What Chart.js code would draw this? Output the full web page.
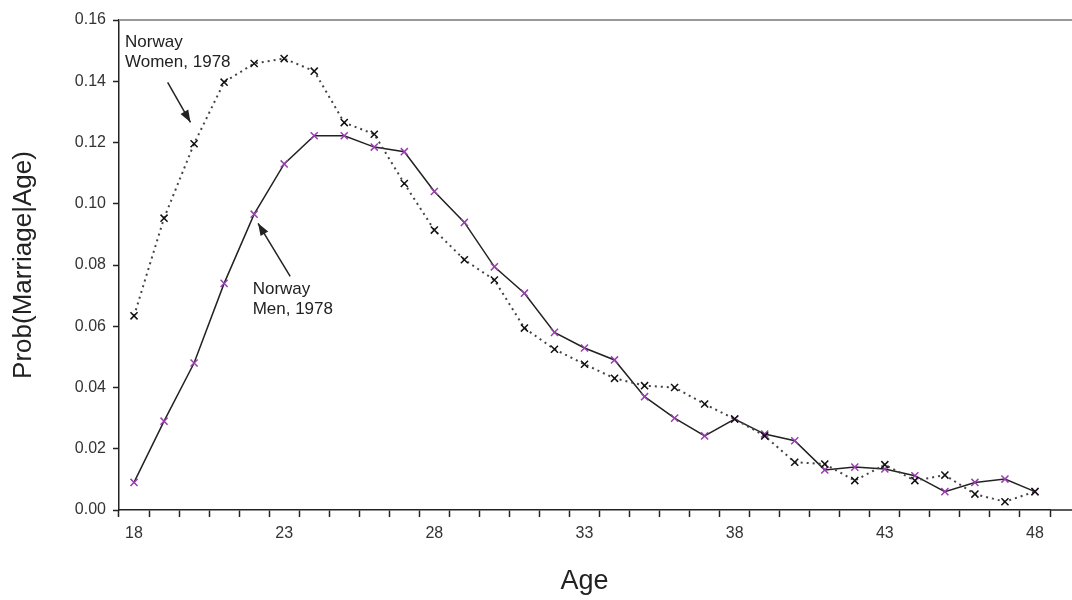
<!DOCTYPE html>
<html>
<head>
<meta charset="utf-8">
<script src="https://cdn.jsdelivr.net/npm/chart.js@4/dist/chart.umd.min.js"></script>
<style>
  body { margin: 0; background: #fff; }
  #wrap { width: 1072px; height: 600px; }
</style>
</head>
<body>
<div id="wrap"><canvas id="myChart"></canvas></div>
<script>
const ages = [];
for (let a = 18; a <= 48; a++) ages.push(String(a));

const men = [0.009, 0.029, 0.048, 0.074, 0.0966, 0.113, 0.1222, 0.1222, 0.1185, 0.117,
    0.104, 0.0939, 0.0794, 0.0708, 0.058, 0.0529, 0.049, 0.037, 0.030, 0.0242,
    0.0297, 0.0248, 0.0226, 0.0131, 0.014, 0.0134, 0.0112, 0.006, 0.009, 0.0101, 0.006];

const women = [0.0634, 0.0953, 0.1196, 0.1397, 0.1458, 0.1474, 0.1433, 0.1265, 0.1227, 0.1066,
    0.0914, 0.0817, 0.0751, 0.0594, 0.0525, 0.0476, 0.043, 0.0406, 0.040, 0.0346,
    0.0297, 0.0242, 0.0156, 0.015, 0.0096, 0.0148, 0.0096, 0.0114, 0.0052, 0.0027, 0.006];

const yTicks = [0, 0.02, 0.04, 0.06, 0.08, 0.10, 0.12, 0.14, 0.16];

// notes are placed in data units: [category index, value]
const notes = [
    { lines: ['Norway', 'Women, 1978'], at: [-0.3, 0.1527], from: [1.12, 0.1396], to: [1.88, 0.1266] },
    { lines: ['Norway', 'Men, 1978'], at: [3.95, 0.0721], from: [5.2, 0.0763], to: [4.13, 0.0936] }
];

const font = "'Liberation Sans', Arial, sans-serif";

const notesPlugin = {
    id: 'notes',
    afterDatasetsDraw(chart) {
        const ctx = chart.ctx;
        const xs = chart.scales.x, ys = chart.scales.y;
        const area = chart.chartArea;
        ctx.save();
        // top border and extended x axis line
        ctx.strokeStyle = '#999';
        ctx.lineWidth = 2;
        ctx.beginPath();
        ctx.moveTo(area.left, area.top);
        ctx.lineTo(chart.width, area.top);
        ctx.stroke();
        ctx.strokeStyle = '#222';
        ctx.lineWidth = 1.5;
        ctx.beginPath();
        ctx.moveTo(area.right, area.bottom);
        ctx.lineTo(chart.width, area.bottom);
        ctx.stroke();

        ctx.font = '17px ' + font;
        ctx.fillStyle = '#222';
        ctx.textBaseline = 'middle';
        notes.forEach(n => {
            const tx = xs.getPixelForValue(n.at[0]);
            const ty = ys.getPixelForValue(n.at[1]);
            n.lines.forEach((l, i) => ctx.fillText(l, tx, ty + i * 20));
            const x1 = xs.getPixelForValue(n.from[0]), y1 = ys.getPixelForValue(n.from[1]);
            const x2 = xs.getPixelForValue(n.to[0]), y2 = ys.getPixelForValue(n.to[1]);
            ctx.strokeStyle = '#222';
            ctx.lineWidth = 1.5;
            ctx.beginPath();
            ctx.moveTo(x1, y1);
            ctx.lineTo(x2, y2);
            ctx.stroke();
            const ang = Math.atan2(y2 - y1, x2 - x1);
            ctx.beginPath();
            ctx.moveTo(x2, y2);
            ctx.lineTo(x2 - 13 * Math.cos(ang - 0.35), y2 - 13 * Math.sin(ang - 0.35));
            ctx.lineTo(x2 - 13 * Math.cos(ang + 0.35), y2 - 13 * Math.sin(ang + 0.35));
            ctx.closePath();
            ctx.fill();
        });
        ctx.restore();
    }
};

const config = {
    type: 'line',
    data: {
        labels: ages,
        datasets: [{
            label: 'Norway Women, 1978',
            data: women,
            borderColor: '#444',
            borderWidth: 2,
            borderDash: [2, 4],
            pointStyle: 'crossRot',
            pointRadius: 5,
            pointBorderColor: '#111',
            pointBorderWidth: 1.5,
            tension: 0
        },
        {
            label: 'Norway Men, 1978',
            data: men,
            borderColor: '#222',
            borderWidth: 1.5,
            pointStyle: 'crossRot',
            pointRadius: 5,
            pointBorderColor: '#9a3fb0',
            pointBorderWidth: 1.5,
            tension: 0
        }]
    },
    options: {
        responsive: true,
        maintainAspectRatio: false,
        animation: false,
        layout: { padding: { top: 20, right: 22, left: 0, bottom: 0 } },
        plugins: {
            legend: { display: false },
            tooltip: { enabled: false }
        },
        scales: {
            x: {
                type: 'category',
                offset: true,
                grid: { offset: true, drawOnChartArea: false, color: '#222', tickLength: 7, tickWidth: 1.5 },
                border: { color: '#222', width: 1.5 },
                ticks: {
                    autoSkip: false,
                    maxRotation: 0,
                    padding: 7,
                    color: '#333',
                    font: { family: font, size: 16 },
                    callback: (v, i) => (i % 5 === 0 ? ages[i] : '')
                },
                title: { display: true, text: 'Age', color: '#222', font: { family: font, size: 27 }, padding: { top: 4, bottom: 2 } },
                afterFit: s => { s.height = 90; }
            },
            y: {
                min: 0,
                max: 0.16,
                afterBuildTicks: s => { s.ticks = yTicks.map(v => ({ value: v })); },
                grid: { drawOnChartArea: false, color: '#222', tickLength: 6, tickWidth: 1.5 },
                border: { color: '#222', width: 1.5 },
                ticks: {
                    padding: 7,
                    color: '#333',
                    font: { family: font, size: 16 },
                    callback: v => v.toFixed(2)
                },
                title: { display: true, text: 'Prob(Marriage|Age)', color: '#222', font: { family: font, size: 26 }, padding: { top: 8, bottom: 4 } },
                afterFit: s => { s.width = 119; }
            }
        }
    },
    plugins: [notesPlugin]
};

const myChart = new Chart(document.getElementById('myChart'), config);
</script>
</body>
</html>
